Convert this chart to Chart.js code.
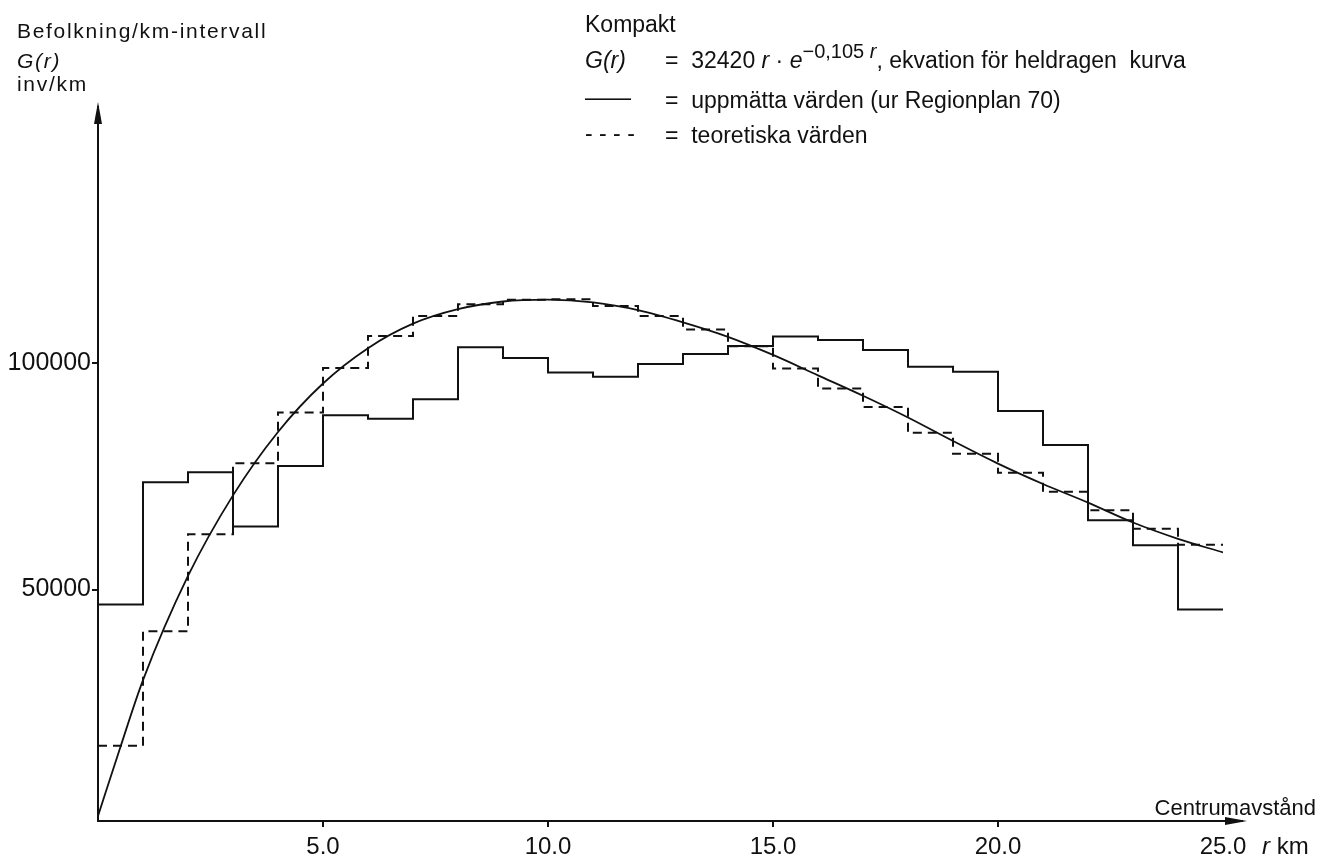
<!DOCTYPE html>
<html>
<head>
<meta charset="utf-8">
<script src="https://cdn.jsdelivr.net/npm/chart.js@4.4.1/dist/chart.umd.min.js"></script>
<style>
  html, body { margin: 0; padding: 0; background: #fff; }
  #wrap { position: relative; width: 1324px; height: 855px; overflow: hidden; }
  #chart { position: absolute; left: 0; top: 0; }
  .t {
    position: absolute; white-space: pre; line-height: 1; color: #111;
    font-family: "Liberation Sans", Arial, sans-serif;
  }
  .t i { font-style: italic; }
  .hd { font-size: 21px; letter-spacing: 1.7px; }
  .lg { font-size: 23px; }
  .lg sup { font-size: 20px; position: relative; top: -10px; vertical-align: baseline; }
</style>
</head>
<body>
<div id="wrap">
  <canvas id="chart" width="1324" height="855"></canvas>

  <div class="t hd" style="left:17px; top:20px">Befolkning/km-intervall</div>
  <div class="t hd" style="left:17px; top:50px"><i>G(r)</i></div>
  <div class="t hd" style="left:17px; top:73px">inv/km</div>

  <div class="t lg" style="left:585px; top:13px">Kompakt</div>
  <div class="t lg" style="left:585px; top:49px"><i>G(r)</i></div>
  <div class="t lg" style="left:665px; top:49px">=  32420 <i>r</i> · <i>e</i><sup>−0,105 <i>r</i></sup>, ekvation för heldragen  kurva</div>
  <div class="t lg" style="left:585px; top:86px">——</div>
  <div class="t lg" style="left:665px; top:89px">=  uppmätta värden (ur Regionplan 70)</div>
  <div class="t lg" style="left:585px; top:122px">- - - -</div>
  <div class="t lg" style="left:665px; top:124px">=  teoretiska värden</div>

  <div class="t lg" style="right:8px; top:797px; font-size:22px">Centrumavstånd</div>
  <div class="t lg" style="left:1262px; top:834px; font-size:24px"><i>r</i> km</div>
</div>

<script>
// ── Data ──
// interval edges, km from the centre
const km = [0, 1, 2, 3, 4, 5, 6, 7, 8, 9, 10, 11, 12, 13, 14, 15, 16, 17, 18, 19, 20, 21, 22, 23, 24, 25];

// uppmätta värden, inv per 1 km interval (0–1, 1–2, ... 24–25)
const measured = [46700, 73700, 75900, 63900, 77300, 88500, 87700, 92000, 103500, 101100,
                  97900, 97000, 99800, 102000, 103800, 105900, 105100, 102900, 99200, 98100,
                  89400, 81900, 65300, 59800, 45600];

// teoretiska värden, same intervals
const theoretical = [15500, 40800, 62200, 77900, 89100, 98900, 106000, 110400, 113000, 114000,
                     114100, 112600, 110400, 107400, 103700, 98800, 94400, 90300, 84600, 80000,
                     75800, 71600, 67500, 63400, 59900];

// heldragen kurva G(r), read at these r
const curveR = [0, 0.5, 1, 2, 3, 4, 5, 6, 7, 8, 9, 10, 11, 12, 13, 14, 15, 16, 17, 18, 19, 20, 21, 22, 23, 24, 25];
const curveG = [0, 15300, 30000, 53000, 70800, 84800, 95500, 103300, 108700, 111900, 113600, 114000,
                113400, 111700, 109000, 105800, 101800, 97300, 92800, 88000, 82800, 77800, 73300,
                69200, 64800, 61200, 58200];

const xTicks = [5, 10, 15, 20, 25];
const yTicks = [50000, 100000];

const ink = "#111";

// step series: value i holds from km[i] to km[i+1]
function steps(vals) {
  const pts = vals.map((v, i) => ({ x: km[i], y: v }));
  pts.push({ x: km[km.length - 1], y: vals[vals.length - 1] });
  return pts;
}

// ── Axis arrows ──
const axisArrows = {
  id: "axisArrows",
  afterDraw(chart) {
    const { ctx, chartArea: a } = chart;
    const xTip = a.right + 24, yTip = a.top - 12;
    ctx.save();
    ctx.strokeStyle = ink; ctx.fillStyle = ink; ctx.lineWidth = 2;
    ctx.beginPath();
    ctx.moveTo(a.right, a.bottom); ctx.lineTo(xTip - 4, a.bottom);
    ctx.moveTo(a.left, a.top);     ctx.lineTo(a.left, yTip + 4);
    ctx.stroke();
    ctx.beginPath();
    ctx.moveTo(xTip, a.bottom);
    ctx.lineTo(xTip - 22, a.bottom - 4);
    ctx.lineTo(xTip - 22, a.bottom + 4);
    ctx.closePath(); ctx.fill();
    ctx.beginPath();
    ctx.moveTo(a.left, yTip);
    ctx.lineTo(a.left - 4, yTip + 22);
    ctx.lineTo(a.left + 4, yTip + 22);
    ctx.closePath(); ctx.fill();
    ctx.restore();
  }
};

const fontFam = "'Liberation Sans', Arial, sans-serif";

new Chart(document.getElementById("chart"), {
  type: "line",
  data: {
    datasets: [
      {
        label: "uppmätta värden", data: steps(measured), stepped: "before",
        borderColor: ink, borderWidth: 2, pointRadius: 0, fill: false
      },
      {
        label: "teoretiska värden", data: steps(theoretical), stepped: "before",
        borderColor: ink, borderWidth: 2, borderDash: [9, 6], pointRadius: 0, fill: false
      },
      {
        label: "G(r)", data: curveR.map((r, i) => ({ x: r, y: curveG[i] })),
        borderColor: ink, borderWidth: 1.8, pointRadius: 0, fill: false,
        cubicInterpolationMode: "monotone"
      }
    ]
  },
  options: {
    responsive: false, animation: false,
    layout: { padding: { left: 0, right: 101, top: 114, bottom: 0 } },
    plugins: { legend: { display: false }, tooltip: { enabled: false } },
    scales: {
      x: {
        type: "linear", min: 0, max: 25,
        afterBuildTicks: s => { s.ticks = xTicks.map(v => ({ value: v })); },
        afterFit: s => { s.height = 34; },
        ticks: { color: ink, font: { family: fontFam, size: 24 }, padding: 6, maxRotation: 0,
                 callback: v => v.toFixed(1) },
        grid: { drawOnChartArea: false, drawTicks: true, tickLength: 6,
                color: c => (c.tick && c.tick.value === 25 ? "rgba(0,0,0,0)" : ink), lineWidth: 2 },
        border: { display: true, color: ink, width: 2 }
      },
      y: {
        type: "linear", min: -1100, max: 155000,
        afterBuildTicks: s => { s.ticks = yTicks.map(v => ({ value: v })); },
        afterFit: s => { s.width = 98; },
        ticks: { color: ink, font: { family: fontFam, size: 25 }, padding: 1, callback: v => String(v) },
        grid: { drawOnChartArea: false, drawTicks: true, tickLength: 6, color: ink, lineWidth: 2 },
        border: { display: true, color: ink, width: 2 }
      }
    }
  },
  plugins: [axisArrows]
});
</script>
</body>
</html>
